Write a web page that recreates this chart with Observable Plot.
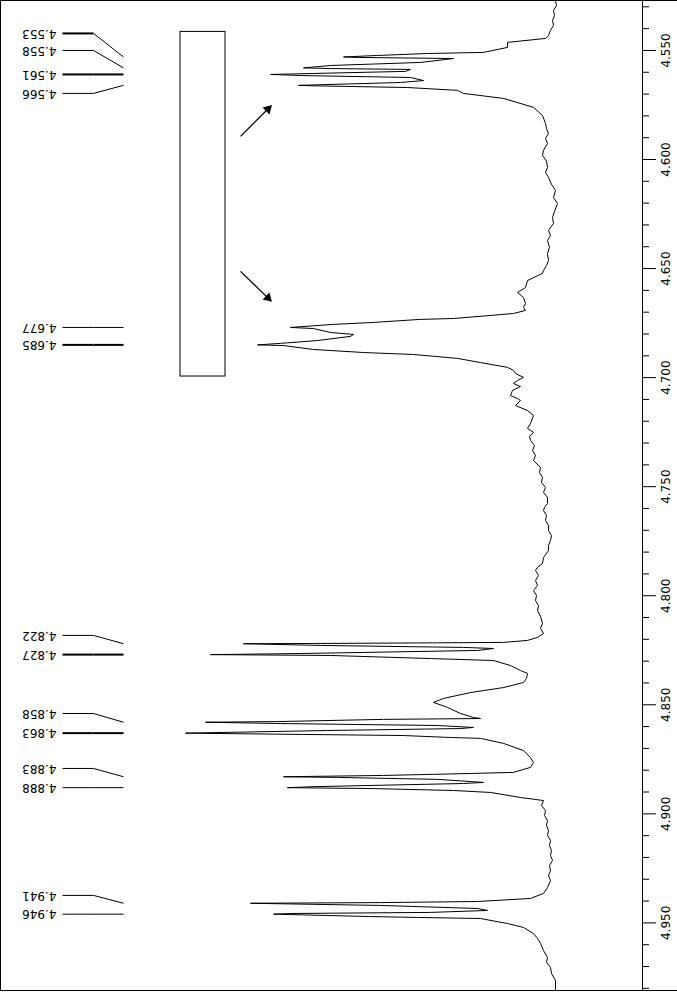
<!DOCTYPE html>
<html><head><meta charset="utf-8">
<script src="https://cdn.jsdelivr.net/npm/d3@7"></script>
<script src="https://cdn.jsdelivr.net/npm/@observablehq/plot@0.6"></script>
<style>body{margin:0;background:#fff}#chart svg{display:block}</style>
</head><body><div id="chart"></div>
<script>
// Chemical shift (ppm) and intensity (arbitrary units) of the trace, in drawing order
const shiftPpm = [
4.5271,4.5294,4.5317,4.5340,4.5362,4.5385,4.5408,4.5431,4.5445,4.5463,
4.5486,4.5509,4.5514,4.5523,4.5530,4.5532,4.5537,4.5555,4.5569,4.5580,
4.5583,4.5587,4.5596,4.5610,4.5615,4.5624,4.5638,4.5647,4.5660,4.5662,
4.5670,4.5683,4.5697,4.5720,4.5761,4.5798,4.5835,4.5858,4.5881,4.5903,
4.5926,4.5958,4.5981,4.6008,4.6036,4.6059,4.6082,4.6114,4.6142,4.6174,
4.6202,4.6238,4.6266,4.6293,4.6325,4.6348,4.6371,4.6403,4.6431,4.6463,
4.6486,4.6509,4.6522,4.6555,4.6587,4.6610,4.6632,4.6660,4.6678,4.6692,
4.6706,4.6715,4.6729,4.6733,4.6747,4.6756,4.6770,4.6775,4.6793,4.6802,
4.6811,4.6830,4.6843,4.6850,4.6853,4.6871,4.6885,4.6894,4.6912,4.6931,
4.6953,4.6967,4.6981,4.6999,4.7013,4.7027,4.7041,4.7059,4.7082,4.7096,
4.7105,4.7128,4.7151,4.7174,4.7210,4.7233,4.7251,4.7270,4.7288,4.7311,
4.7334,4.7357,4.7380,4.7412,4.7435,4.7458,4.7481,4.7504,4.7527,4.7549,
4.7577,4.7595,4.7609,4.7632,4.7655,4.7678,4.7701,4.7724,4.7747,4.7770,
4.7793,4.7825,4.7852,4.7870,4.7884,4.7907,4.7930,4.7953,4.7976,4.7999,
4.8022,4.8045,4.8068,4.8095,4.8127,4.8150,4.8173,4.8191,4.8205,4.8214,
4.8216,4.8219,4.8220,4.8228,4.8237,4.8242,4.8251,4.8265,4.8270,4.8274,
4.8288,4.8297,4.8320,4.8343,4.8356,4.8379,4.8398,4.8421,4.8444,4.8471,
4.8489,4.8512,4.8540,4.8558,4.8563,4.8567,4.8577,4.8580,4.8586,4.8595,
4.8604,4.8609,4.8618,4.8630,4.8636,4.8641,4.8650,4.8654,4.8677,4.8710,
4.8742,4.8765,4.8787,4.8810,4.8815,4.8824,4.8830,4.8833,4.8842,4.8856,
4.8861,4.8875,4.8880,4.8884,4.8893,4.8902,4.8925,4.8939,4.8962,4.8985,
4.9008,4.9030,4.9053,4.9076,4.9099,4.9122,4.9145,4.9168,4.9191,4.9214,
4.9237,4.9260,4.9283,4.9306,4.9338,4.9365,4.9388,4.9402,4.9407,4.9410,
4.9420,4.9434,4.9443,4.9452,4.9457,4.9460,4.9471,4.9475,4.9480,4.9503,
4.9521,4.9549,4.9571,4.9594,4.9627,4.9659,4.9681,4.9704,4.9732,4.9764,
4.9810
];
const intensity = [
5,4,7,6,8,7,10,12,15,53,
53,77,133,183,217,203,107,140,230,257,
230,150,155,290,260,150,137,160,262,250,
153,103,97,57,27,18,15,14,12,15,
13,17,18,14,13,15,12,9,5,7,
3,6,8,7,12,10,13,11,13,12,
14,17,18,33,35,43,37,35,37,35,
47,70,107,140,187,227,270,247,230,207,
210,243,280,303,277,247,197,147,103,80,
53,47,45,37,43,47,40,48,50,43,
40,45,33,27,30,33,27,31,30,26,
28,25,27,20,21,18,19,15,17,13,
13,16,17,14,15,12,12,9,10,12,
12,17,18,23,25,22,25,23,27,24,
25,22,23,20,18,20,17,23,33,57,
123,247,317,240,97,67,83,260,350,230,
130,67,50,40,33,34,37,57,90,117,
127,113,100,87,80,177,283,355,280,123,
87,100,233,375,257,157,110,80,57,37,
30,27,30,47,90,177,277,223,123,77,
97,243,273,190,107,70,40,17,19,15,
16,13,14,12,13,10,11,9,10,8,
11,10,12,10,13,17,30,83,180,310,
180,83,73,130,270,287,190,143,80,53,
37,27,23,20,17,13,14,10,9,5,
5
];

// Peak picking: shift value, and the shift at which its label text sits
const peakShifts = [4.553,4.558,4.561,4.566,4.677,4.685,4.822,4.827,4.858,4.863,4.883,4.888,4.941,4.946];
const peakLabelShifts = [4.5422,4.5500,4.561,4.5697,4.677,4.685,4.8182,4.827,4.8540,4.863,4.8792,4.888,4.9374,4.946];

// Axis ticks (ppm)
const majorTicks = [4.55,4.60,4.65,4.70,4.75,4.80,4.85,4.90,4.95];
const minorTicks = [4.53,4.54,4.56,4.57,4.58,4.59,4.61,4.62,4.63,4.64,4.66,4.67,4.68,4.69,
  4.71,4.72,4.73,4.74,4.76,4.77,4.78,4.79,4.81,4.82,4.83,4.84,4.86,4.87,4.88,4.89,
  4.91,4.92,4.93,4.94,4.96,4.97,4.98];

// Integral box and arrows (ppm / intensity units)
const boxShift = [4.5415, 4.6995];
const boxIntensity = [335, 380];
const arrowFromShift = [4.5894, 4.6513];
const arrowToShift = [4.5757, 4.6646];
const arrowFromIntensity = [320, 320];
const arrowToIntensity = [290, 290];

// ---- build tables ----
const spectrum = shiftPpm.map((p, i) => ({ppm: p, i: intensity[i]}));
const fmt = d3.format(".3f");
const peaks = peakShifts.map((p, k) => ({label: fmt(p), peak: p, at: peakLabelShifts[k]}));

const xDomain = [560, -82];
const yDomain = [4.5271, 4.9810];
const W = 677, H = 992, mR = 35, mB = 2;

// layout of the label leaders (intensity units)
const textI = 504, leadStart = 498, leadElbow = 467, leadEnd = 437;
const heavyFlat = new Set(["4.553","4.561","4.685","4.827","4.863"]);
const heavyDiag = new Set(["4.561","4.685","4.827","4.863"]);

const box = [{y1: boxShift[0], y2: boxShift[1], x1: boxIntensity[0], x2: boxIntensity[1]}];

const pxX = (W - mR) / (xDomain[0] - xDomain[1]);
const pxY = (H - mB) / (yDomain[1] - yDomain[0]);
const arrows = arrowFromShift.map((p, k) => {
  const dxs = -(arrowToIntensity[k] - arrowFromIntensity[k]) * pxX;
  const dys = (arrowToShift[k] - p) * pxY;
  const len = Math.hypot(dxs, dys);
  const back = 3.5;
  return {
    x1: arrowFromIntensity[k], y1: p, x2: arrowToIntensity[k], y2: arrowToShift[k],
    hx: arrowToIntensity[k] + (dxs / len) * back / pxX,
    hy: arrowToShift[k] - (dys / len) * back / pxY,
    rot: Math.atan2(dxs, -dys) * 180 / Math.PI
  };
});
const rightEdge = xDomain[1] - mR / pxX;

const plot = Plot.plot({
  width: W, height: H,
  marginLeft: 0, marginRight: mR, marginTop: 0, marginBottom: mB,
  x: {domain: xDomain, axis: null},
  y: {domain: yDomain, reverse: true, label: null},
  style: {background: "#fff", color: "#000", fontFamily: "DejaVu Sans, sans-serif", fontSize: "12px", overflow: "visible"},
  marks: [
    Plot.frame({stroke: "#000"}),
    Plot.ruleY([yDomain[0], yDomain[1]], {x1: xDomain[1], x2: rightEdge, stroke: "#000"}),
    Plot.axisY(minorTicks, {anchor: "right", tickSize: 6, tickFormat: () => "", label: null}),
    Plot.axisY(majorTicks, {anchor: "right", tickSize: 13, tickFormat: () => "", label: null}),
    Plot.text(majorTicks, {y: d => d, text: d => fmt(d), frameAnchor: "right", rotate: -90, dx: 24,
      textAnchor: "middle", lineAnchor: "middle", fill: "#000", fontSize: 12}),
    Plot.line(spectrum, {x: "i", y: "ppm", stroke: "#000", strokeWidth: 1}),
    Plot.rect(box, {x1: "x1", x2: "x2", y1: "y1", y2: "y2", fill: "none", stroke: "#000"}),
    Plot.link(arrows, {x1: "x1", y1: "y1", x2: "x2", y2: "y2", stroke: "#000", strokeWidth: 1.3}),
    Plot.dot(arrows, {x: "hx", y: "hy", symbol: "triangle", r: 3.6, fill: "#000", stroke: "none", rotate: "rot"}),
    Plot.link(peaks, {x1: () => leadStart, x2: () => leadElbow, y1: "at", y2: "at", stroke: "#000",
      strokeWidth: d => heavyFlat.has(d.label) ? 2 : 1}),
    Plot.link(peaks, {x1: () => leadElbow, x2: () => leadEnd, y1: "at", y2: "peak", stroke: "#000",
      strokeWidth: d => heavyDiag.has(d.label) ? 2 : 1}),
    Plot.text(peaks, {x: () => textI, y: "at", text: "label", rotate: 180,
      textAnchor: "start", lineAnchor: "middle", fill: "#000", fontSize: 12})
  ]
});
document.getElementById("chart").append(plot);
</script>
</body></html>
